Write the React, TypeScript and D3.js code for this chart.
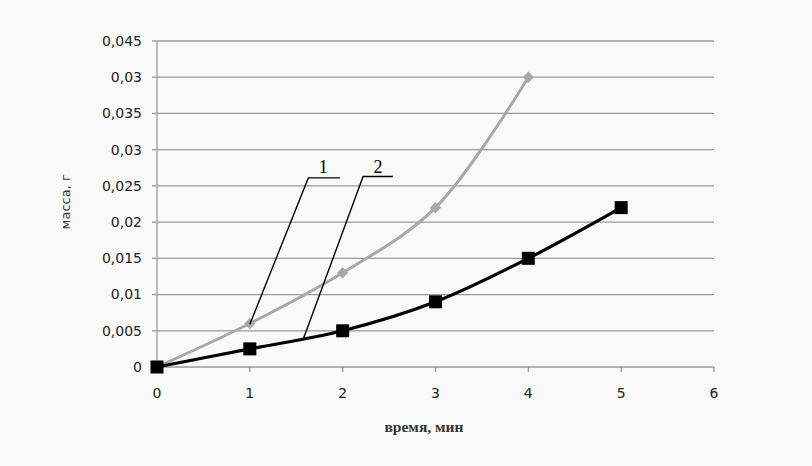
import React from "react";
import * as d3 from "d3";

const xTicks = [0, 1, 2, 3, 4, 5, 6];
const yTickValues = [0, 0.005, 0.01, 0.015, 0.02, 0.025, 0.03, 0.035, 0.04, 0.045];
const yTickLabels = ["0", "0,005", "0,01", "0,015", "0,02", "0,025", "0,03", "0,035", "0,03", "0,045"];

const series1X = [0, 1, 2, 3, 4];
const series1Y = [0, 0.006, 0.013, 0.022, 0.04];
const series2X = [0, 1, 2, 3, 4, 5];
const series2Y = [0, 0.0025, 0.005, 0.009, 0.015, 0.022];

// leader annotations in data units
const annotations = [
  { label: "1", lx: 1.79, ly: 0.0268, x0: 1.63, y0: 0.0261, x1: 1.97, tx: 1.0, ty: 0.0059 },
  { label: "2", lx: 2.38, ly: 0.0268, x0: 2.22, y0: 0.0263, x1: 2.54, tx: 1.58, ty: 0.004 },
];

export default function App() {
  const W = 812, H = 466;
  const x = d3.scaleLinear().domain([0, 6]).range([157, 714]);
  const y = d3.scaleLinear().domain([0, 0.045]).range([367, 41]);
  const line = d3.line<[number, number]>().x(d => x(d[0])).y(d => y(d[1])).curve(d3.curveCatmullRom.alpha(0.5));
  const s1 = series1X.map((v, i) => [v, series1Y[i]] as [number, number]);
  const s2 = series2X.map((v, i) => [v, series2Y[i]] as [number, number]);
  const tickFont = "DejaVu Sans, Verdana, sans-serif";
  return (
    <div style={{ position: "fixed", left: 0, top: 0 }}>
      <svg width={W} height={H} style={{ display: "block", background: "#f9f9f9" }}>
        {yTickValues.map((v, i) => (
          <g key={"y" + i}>
            <line x1={x(0)} x2={x(6)} y1={y(v)} y2={y(v)} stroke="#9a9a9a" strokeWidth={1.3} />
            <line x1={x(0) - 5} x2={x(0)} y1={y(v)} y2={y(v)} stroke="#9a9a9a" strokeWidth={1.3} />
            <text x={142} y={y(v)} dy="0.35em" textAnchor="end" fontFamily={tickFont} fontSize={14} fill="#222">
              {yTickLabels[i]}
            </text>
          </g>
        ))}
        <line x1={x(0)} x2={x(0)} y1={y(0.045)} y2={y(0)} stroke="#9a9a9a" strokeWidth={1.3} />
        {xTicks.map(t => (
          <g key={"x" + t}>
            <line x1={x(t)} x2={x(t)} y1={y(0)} y2={y(0) + 5} stroke="#9a9a9a" strokeWidth={1.3} />
            <text x={x(t)} y={393} dy="0.35em" textAnchor="middle" fontFamily={tickFont} fontSize={14} fill="#222">
              {t}
            </text>
          </g>
        ))}
        <text x={424} y={432} textAnchor="middle" fontFamily="Liberation Serif, serif" fontSize={15.5} fontWeight="bold" fill="#333">
          время, мин
        </text>
        <text transform={`translate(70,${y(0.0228)}) rotate(-90)`} textAnchor="middle" fontFamily="DejaVu Sans, sans-serif" fontSize={13} fill="#333">
          масса, г
        </text>
        <path d={line(s1) || ""} fill="none" stroke="#a8a8a8" strokeWidth={3} />
        {s1.map((d, i) => (
          <rect key={"d" + i} x={x(d[0]) - 4} y={y(d[1]) - 4} width={8} height={8} fill="#a8a8a8"
            transform={`rotate(45 ${x(d[0])} ${y(d[1])})`} />
        ))}
        <path d={line(s2) || ""} fill="none" stroke="#000" strokeWidth={3.2} />
        {s2.map((d, i) => (
          <rect key={"s" + i} x={x(d[0]) - 6.5} y={y(d[1]) - 6.5} width={13} height={13} fill="#000" />
        ))}
        {annotations.map(a => (
          <g key={a.label}>
            <polyline points={`${x(a.x1)},${y(a.y0)} ${x(a.x0)},${y(a.y0)} ${x(a.tx)},${y(a.ty)}`}
              fill="none" stroke="#000" strokeWidth={1.4} />
            <text x={x(a.lx)} y={y(a.ly)} textAnchor="middle" fontFamily="Liberation Serif, serif" fontSize={18} fill="#000">
              {a.label}
            </text>
          </g>
        ))}
      </svg>
    </div>
  );
}
